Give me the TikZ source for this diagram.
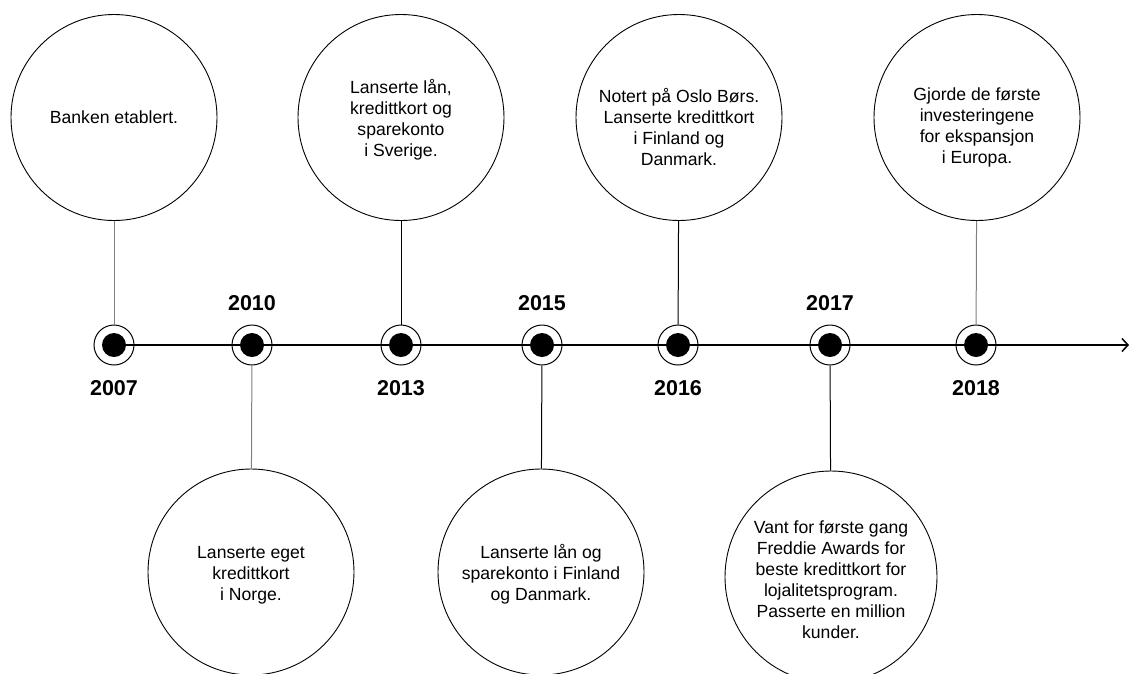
\documentclass[tikz,border=0pt]{standalone}
\usepackage{fontspec}
\setmainfont{Liberation Sans}
\usetikzlibrary{arrows.meta}
\tikzset{
  evt/.style={circle,draw=black,line width=0.9pt,minimum size=206pt,inner sep=0pt},
  evttext/.style={align=center,font=\fontsize{17.6pt}{21pt}\selectfont,inner sep=0pt},
  ring/.style={circle,draw=black,line width=1pt,minimum size=40pt,inner sep=0pt},
  dot/.style={circle,fill=black,minimum size=24pt,inner sep=0pt},
  year/.style={font=\fontsize{21.5pt}{24pt}\selectfont\bfseries,inner sep=0pt},
  linkg/.style={draw=gray,line width=1pt},
  linkb/.style={draw=black,line width=1pt},
}
\begin{document}
\begin{tikzpicture}[x=1pt,y=-1pt]
\useasboundingbox[fill=white] (0,0) rectangle (1130,673);
% markers positions
\coordinate (p1) at (114,345);
\coordinate (p2) at (252,345);
\coordinate (p3) at (401,345);
\coordinate (p4) at (542,345);
\coordinate (p5) at (678,345);
\coordinate (p6) at (830,345);
\coordinate (p7) at (976,345);
\coordinate (end) at (1129,345);
% main axis
\draw[line width=2pt,-{Straight Barb[length=6pt,width=13pt,line width=1.5pt]}] (p1) -- (end);
% rings and dots
\foreach \i in {1,...,7}{
  \node[ring] (m\i) at (p\i) {};
  \node[dot] (d\i) at (p\i) {};
}
% event circles
\node[evt] (c1) at (114,117.5) {};
\node[evt] (c2) at (251,572) {};
\node[evt] (c3) at (401,117.5) {};
\node[evt] (c4) at (541,572) {};
\node[evt] (c5) at (679,117.5) {};
\node[evt,minimum size=212pt] (c6) at (831,577) {};
\node[evt] (c7) at (977,117.5) {};
% texts
\node[evttext] (t1) at (114,117) {Banken etablert.};
\node[evttext] (t2) at (251,575) {Lanserte eget\\kredittkort\\i Norge.};
\node[evttext] (t3) at (401,120) {Lanserte lån,\\kredittkort og\\sparekonto\\i Sverige.};
\node[evttext] (t4) at (541,574) {Lanserte lån og\\sparekonto i Finland\\og Danmark.};
\node[evttext] (t5) at (679,127) {Notert på Oslo Børs.\\Lanserte kredittkort\\i Finland og\\Danmark.};
\node[evttext] (t6) at (831,580) {Vant for første gang\\Freddie Awards for\\beste kredittkort for\\lojalitetsprogram.\\Passerte en million\\kunder.};
\node[evttext] (t7) at (977,127) {Gjorde de første\\investeringene\\for ekspansjon\\i Europa.};
% connectors
\draw[linkg] (m1) -- (c1);
\draw[linkg] (m2) -- (c2);
\draw[linkb] (m3) -- (c3);
\draw[linkb] (m4) -- (c4);
\draw[linkb] (m5) -- (c5);
\draw[linkb] (m6) -- (c6);
\draw[linkg] (m7) -- (c7);
% years
\node[year] (y1) at (114,388) {2007};
\node[year] (y2) at (252,303) {2010};
\node[year] (y3) at (401,388) {2013};
\node[year] (y4) at (542,303) {2015};
\node[year] (y5) at (678,388) {2016};
\node[year] (y6) at (830,303) {2017};
\node[year] (y7) at (976,388) {2018};
\end{tikzpicture}
\end{document}
